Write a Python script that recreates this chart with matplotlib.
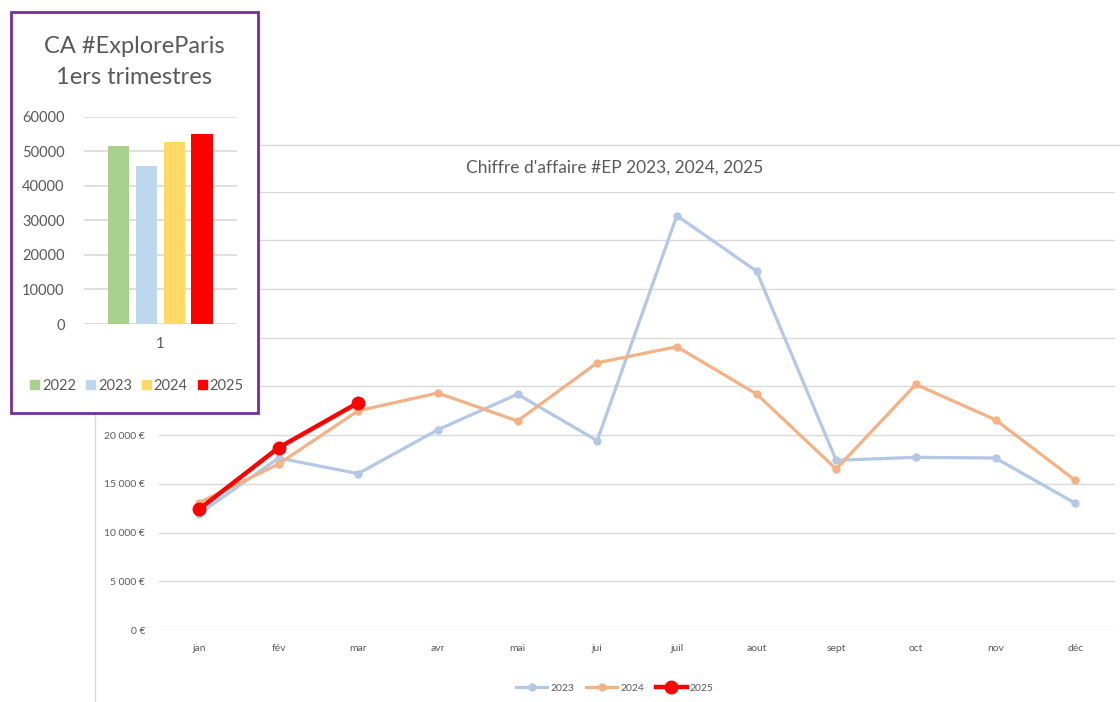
import matplotlib
matplotlib.use("Agg")
import matplotlib.pyplot as plt
from matplotlib import patches as pc
from matplotlib.lines import Line2D
from matplotlib.ticker import FuncFormatter

plt.rcParams['font.family'] = ['Lato', 'DejaVu Sans']

W, H = 1120, 702

# données mensuelles
mois = ['jan', 'fév', 'mar', 'avr', 'mai', 'jui', 'juil', 'aout', 'sept', 'oct', 'nov', 'déc']
ca_2023 = [11900, 17650, 16050, 20550, 24200, 19430, 42520, 36830, 17420, 17720, 17650, 13010]
ca_2024 = [13060, 17030, 22500, 24320, 21450, 27420, 29070, 24220, 16520, 25200, 21570, 15360]
ca_2025 = [12370, 18700, 23320]

# 1ers trimestres
annees = ['2022', '2023', '2024', '2025']
trimestre = [51600, 45730, 52680, 55080]
couleurs_barres = ['#A9D18E', '#BDD7EE', '#FFD966', '#FF0000']

GRIS = '#595959'


def fx(px):
    return px / W


def fy(py):
    return 1 - py / H


def euros(v, p):
    # les étiquettes au-dessus de 20 000 sont cachées par l'encart
    if v > 20000:
        return ''
    return ('{:,.0f}'.format(v)).replace(',', ' ') + ' €'


fig = plt.figure(figsize=(W / 100, H / 100), dpi=100)

# cadre du graphique principal
fig.add_artist(Line2D([fx(95), fx(95)], [0, fy(145)], color='#d9d9d9', lw=1, zorder=0.5))
fig.add_artist(Line2D([fx(95), 1], [fy(145), fy(145)], color='#d9d9d9', lw=1, zorder=0.5))

# graphique principal
ax = fig.add_axes([fx(159), fy(630), fx(1115) - fx(159), fy(191.5) - fy(630)])
x = list(range(len(mois)))
ax.plot(x, ca_2023, color='#B4C7E7', lw=2.3, marker='o', ms=5, label='2023', zorder=3)
ax.plot(x, ca_2024, color='#F4B183', lw=2.3, marker='o', ms=5, label='2024', zorder=3)
ax.plot(x[:len(ca_2025)], ca_2025, color='#FF0000', lw=3.2, marker='o', ms=9, label='2025', zorder=4)

ax.set_xlim(-0.5, len(mois) - 0.5)
ax.set_ylim(0, 45000)
ax.set_yticks(range(0, 45001, 5000))
ax.yaxis.set_major_formatter(FuncFormatter(euros))
ax.set_xticks(x)
ax.set_xticklabels(mois)
ax.tick_params(length=0, labelsize=7.5, colors=GRIS)
ax.tick_params(axis='x', pad=10)
ax.tick_params(axis='y', pad=10)
ax.grid(axis='y', color='#d9d9d9', lw=1)
ax.set_axisbelow(True)
for s in ax.spines.values():
    s.set_visible(False)

fig.text(fx(615), fy(168), "Chiffre d'affaire #EP 2023, 2024, 2025", ha='center', va='center',
         fontsize=12.5, color=GRIS)

fig.legend(*ax.get_legend_handles_labels(), loc='center', bbox_to_anchor=(fx(615), fy(688)),
           ncol=3, frameon=False, fontsize=7.5, labelcolor=GRIS, handlelength=3.0,
           handletextpad=0.3, columnspacing=1.1)

# encart trimestres
fig.add_artist(pc.Rectangle((fx(11), fy(413)), fx(258) - fx(11), fy(12) - fy(413),
                            transform=fig.transFigure, facecolor='white', edgecolor='#7030A0',
                            lw=2, zorder=1))

ax2 = fig.add_axes([fx(84), fy(324), fx(237) - fx(84), fy(116.7) - fy(324)], zorder=2)
ax2.patch.set_alpha(0)
pos = [i - 1.5 for i in range(len(annees))]
ax2.bar(pos, trimestre, width=0.76, color=couleurs_barres, zorder=3)
ax2.set_xlim(-2.75, 2.76)
ax2.set_ylim(0, 60000)
ax2.set_yticks(range(0, 60001, 10000))
ax2.set_xticks([0])
ax2.set_xticklabels(['1'])
ax2.tick_params(length=0, labelsize=10.5, colors=GRIS)
ax2.tick_params(axis='y', pad=14)
ax2.tick_params(axis='x', pad=9)
ax2.grid(axis='y', color='#d9d9d9', lw=1.2)
ax2.set_axisbelow(True)
for s in ax2.spines.values():
    s.set_visible(False)

fig.text(fx(134), fy(62), 'CA #ExploreParis\n1ers trimestres', ha='center', va='center',
         fontsize=17, color=GRIS, linespacing=1.55, zorder=3)

handles = [pc.Patch(color=c) for c in couleurs_barres]
leg = fig.legend(handles, annees, loc='center', bbox_to_anchor=(fx(137), fy(386)), ncol=4,
                 frameon=False, fontsize=10.5, labelcolor=GRIS, handlelength=0.6,
                 handleheight=0.6, handletextpad=0.2, columnspacing=0.7)
leg.set_zorder(3)

fig.savefig('out.png', dpi=100)
